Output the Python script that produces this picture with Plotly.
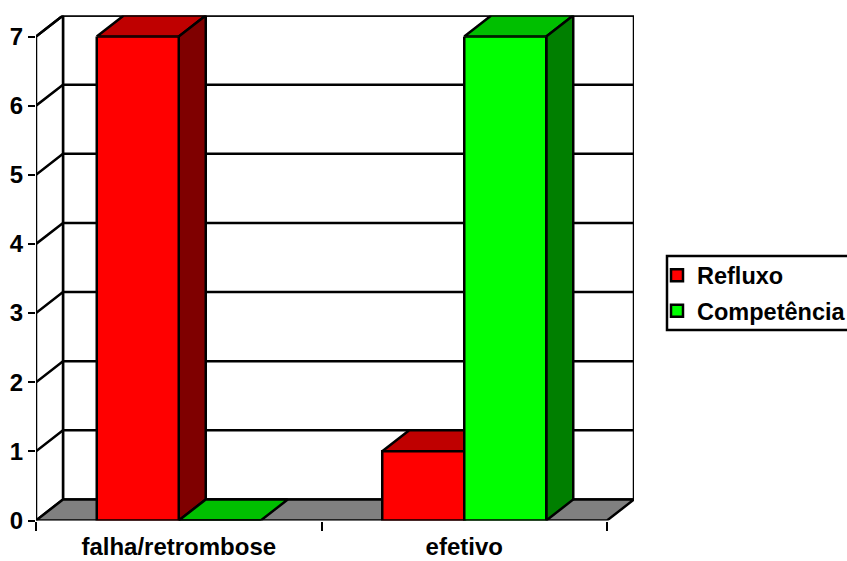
import plotly.graph_objects as go

categories = ["falha/retrombose", "efetivo"]
refluxo = [7, 1]
competencia = [0, 7]
y_ticks = [0, 1, 2, 3, 4, 5, 6, 7]

W, H = 847, 561
PX_L, PX_R, PX_T, PX_B = 36, 607, 36.5, 520.5
X0, X1, Y0, Y1 = -0.5, 1.5, 0, 7
DX = 27 / ((PX_R - PX_L) / (X1 - X0))
DY = 21 / ((PX_B - PX_T) / (Y1 - Y0))
BARGAP = 0.4256
BW = (1 - BARGAP) / 2

series = [
    ("Refluxo", refluxo, "#FF0000", "#BF0000", "#7F0000"),
    ("Competência", competencia, "#00FF00", "#00BF00", "#007F00"),
]

fig = go.Figure()


def poly(xs, ys, fill, lw=2.5):
    fig.add_trace(go.Scatter(
        x=xs + xs[:1], y=ys + ys[:1], mode="lines", fill="toself", fillcolor=fill,
        line=dict(color="black", width=lw), hoverinfo="skip", showlegend=False,
        cliponaxis=False, xaxis="x", yaxis="y",
    ))


def stroke(xs, ys):
    fig.add_trace(go.Scatter(
        x=xs, y=ys, mode="lines", line=dict(color="black", width=2.5),
        hoverinfo="skip", showlegend=False, cliponaxis=False, xaxis="x", yaxis="y",
    ))


# walls and floor
poly([X0 + DX, X1 + DX, X1 + DX, X0 + DX], [Y0 + DY, Y0 + DY, Y1 + DY, Y1 + DY], "white")
poly([X0, X0 + DX, X0 + DX, X0], [Y0, Y0 + DY, Y1 + DY, Y1], "white")
poly([X0, X0 + DX, X1 + DX, X1], [Y0, Y0 + DY, Y0 + DY, Y0], "#808080")
for t in y_ticks[1:]:
    stroke([X0, X0 + DX, X1 + DX], [t, t + DY, t + DY])

# bar depth faces
for k, (name, vals, front, top, side) in enumerate(series):
    for i, v in enumerate(vals):
        l = i - BW + k * BW
        r = l + BW
        poly([l, r, r + DX, l + DX], [v, v, v + DY, v + DY], top)
        if v > 0:
            poly([r, r + DX, r + DX, r], [0, DY, v + DY, v], side)

# bar front faces
for name, vals, front, top, side in series:
    fig.add_trace(go.Bar(
        x=categories, y=vals, name=name, legendgroup=name,
        marker=dict(color=front, line=dict(color="black", width=2.5)),
        xaxis="x2", yaxis="y2",
    ))

front_x = [PX_L / W, PX_R / W]
front_y = [(H - PX_B) / H, (H - PX_T) / H]
back_x = [PX_L / W, (PX_R + 27) / W]
back_y = [(H - PX_B) / H, (H - PX_T + 21) / H]
font = dict(family="Liberation Sans", size=24, color="black", weight="bold")
legend_font = dict(family="Liberation Sans", size=23.5, color="black", weight="bold")

fig.update_layout(
    width=W, height=H, margin=dict(l=0, r=0, t=0, b=0, autoexpand=False),
    paper_bgcolor="white", plot_bgcolor="rgba(0,0,0,0)",
    barmode="group", bargap=BARGAP, bargroupgap=0,
    xaxis=dict(domain=back_x, range=[X0, X1 + DX], visible=False, fixedrange=True),
    yaxis=dict(domain=back_y, range=[Y0, Y1 + DY], visible=False, fixedrange=True),
    xaxis2=dict(domain=front_x, range=[X0, X1], type="category", anchor="y2",
                side="bottom", tickson="boundaries", ticks="outside", ticklen=9, tickwidth=2,
                tickcolor="black", showline=False,
                showgrid=False, tickfont=font, fixedrange=True, ticklabelstandoff=9),
    yaxis2=dict(domain=front_y, range=[Y0, Y1], anchor="x2", tickvals=y_ticks,
                ticks="outside", ticklen=7, tickwidth=2, tickcolor="black", showline=False,
                showgrid=False, zeroline=False,
                tickfont=font, fixedrange=True),
    legend=dict(x=657 / W, xanchor="left", y=(H - 253.5) / H, yanchor="top",
                bgcolor="rgba(0,0,0,0)", borderwidth=0, font=legend_font, tracegroupgap=2,
                itemclick=False, itemdoubleclick=False),
    shapes=[dict(type="rect", xref="paper", yref="paper", x0=667 / W, x1=1.01,
                 y0=(H - 256) / H, y1=(H - 330) / H, line=dict(color="black", width=2.5),
                 fillcolor="rgba(0,0,0,0)")],
)

fig.write_html("out.html", config={"displayModeBar": False},
               post_script="document.body.style.margin='0';")
